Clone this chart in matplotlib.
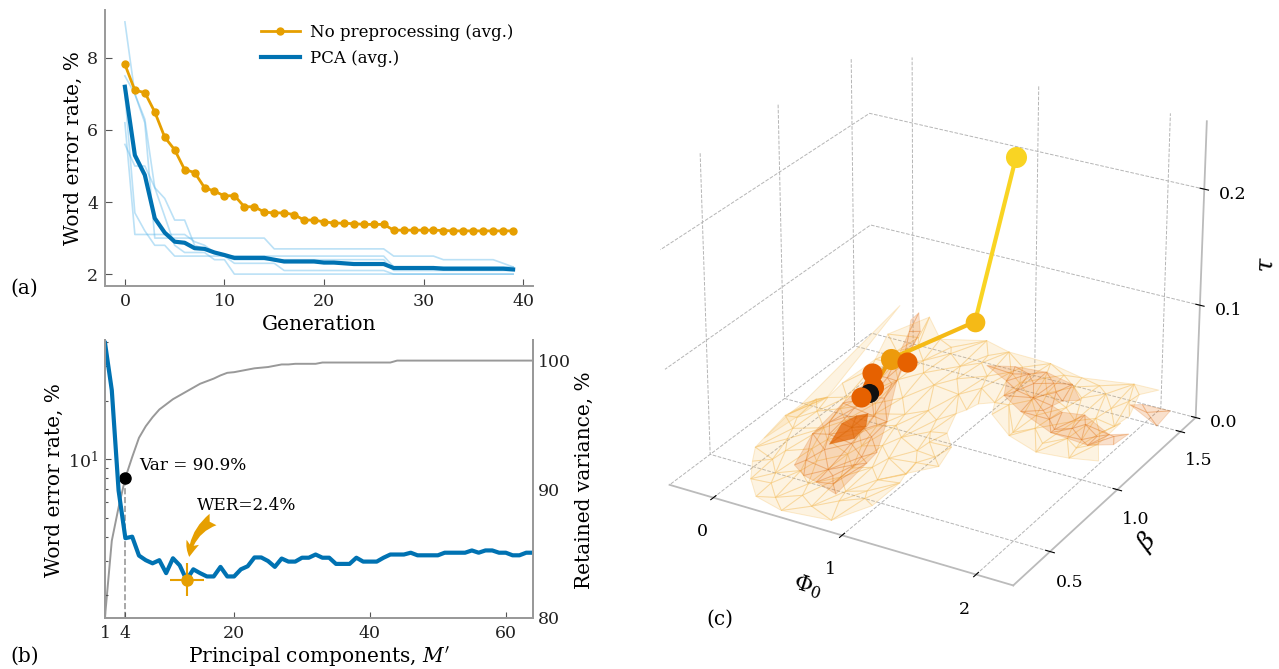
import numpy as np
import matplotlib
matplotlib.use('Agg')
import matplotlib.pyplot as plt
import matplotlib.tri as mtri
from matplotlib.path import Path

plt.rcParams['font.family'] = ['DejaVu Serif']
plt.rcParams['mathtext.fontset'] = 'dejavuserif'

ORANGE = '#E69F00'
BLUE = '#0072B2'
LIGHT = '#56B4E9'
GRAY = '#999999'
AXC = '#BBBBBB'

# panel a
gen = list(range(40))
wer_raw = [7.82, 7.1, 7.04, 6.5, 5.8, 5.45, 4.9, 4.82, 4.4, 4.3, 4.17, 4.18, 3.87, 3.87, 3.72, 3.7, 3.7,
           3.65, 3.5, 3.5, 3.45, 3.42, 3.41, 3.4, 3.38, 3.38, 3.38, 3.22, 3.22, 3.22, 3.22, 3.22, 3.21,
           3.2, 3.2, 3.2, 3.2, 3.2, 3.2, 3.2]
wer_pca = [7.2, 5.3, 4.75, 3.55, 3.15, 2.9, 2.87, 2.72, 2.7, 2.6, 2.53, 2.45, 2.45, 2.45, 2.45, 2.4, 2.35,
           2.35, 2.35, 2.35, 2.32, 2.32, 2.3, 2.28, 2.28, 2.28, 2.28, 2.17, 2.17, 2.17, 2.17, 2.17, 2.15,
           2.15, 2.15, 2.15, 2.15, 2.15, 2.15, 2.13]
run1 = [9.0, 7.0, 6.2, 3.0, 3.0, 3.0, 3.0, 3.0, 3.0, 3.0, 3.0, 3.0, 3.0, 3.0, 3.0, 2.7, 2.7, 2.7, 2.7, 2.7,
        2.7, 2.7, 2.7, 2.7, 2.7, 2.7, 2.7, 2.5, 2.5, 2.5, 2.5, 2.5, 2.4, 2.4, 2.4, 2.4, 2.4, 2.4, 2.3, 2.2]
run2 = [7.5, 7.0, 6.3, 4.4, 4.1, 3.5, 3.5, 2.8, 2.7, 2.6, 2.5, 2.4, 2.4, 2.4, 2.4, 2.4, 2.4, 2.4, 2.4, 2.4,
        2.4, 2.4, 2.4, 2.4, 2.4, 2.4, 2.4, 2.1, 2.1, 2.1, 2.1, 2.1, 2.1, 2.1, 2.1, 2.1, 2.1, 2.1, 2.1, 2.1]
run3 = [5.6, 5.0, 5.0, 4.4, 3.6, 2.8, 2.6, 2.6, 2.6, 2.4, 2.4, 2.0, 2.0, 2.0, 2.0, 2.0, 2.0, 2.0, 2.0, 2.0,
        2.0, 2.0, 2.0, 2.0, 2.0, 2.0, 2.0, 2.0, 2.0, 2.0, 2.0, 2.0, 2.0, 2.0, 2.0, 2.0, 2.0, 2.0, 2.0, 2.0]
run4 = [7.0, 3.7, 3.2, 2.8, 2.8, 2.5, 2.5, 2.5, 2.5, 2.5, 2.5, 2.5, 2.5, 2.5, 2.5, 2.5, 2.5, 2.5, 2.5, 2.5,
        2.5, 2.5, 2.5, 2.5, 2.5, 2.5, 2.5, 2.2, 2.2, 2.2, 2.2, 2.2, 2.2, 2.2, 2.2, 2.2, 2.2, 2.2, 2.2, 2.2]
run5 = [6.2, 3.1, 3.1, 3.1, 3.1, 3.1, 3.1, 2.9, 2.8, 2.6, 2.5, 2.3, 2.3, 2.3, 2.3, 2.3, 2.1, 2.1, 2.1, 2.1,
        2.1, 2.1, 2.1, 2.1, 2.1, 2.1, 2.1, 2.0, 2.0, 2.0, 2.0, 2.0, 2.0, 2.0, 2.0, 2.0, 2.0, 2.0, 2.0, 2.0]

# panel b
comps = list(range(1, 65))
wer_comps = [39.5, 22.6, 6.9, 3.93, 4.0, 3.2, 3.03, 2.92, 3.03, 2.6, 3.1, 2.85, 2.4, 2.72, 2.6, 2.5, 2.5, 2.8,
             2.5, 2.5, 2.72, 2.82, 3.13, 3.13, 3.0, 2.8, 3.09, 2.98, 2.98, 3.12, 3.12, 3.24, 3.12, 3.12, 2.9,
             2.9, 2.9, 3.12, 2.98, 2.98, 2.98, 3.12, 3.24, 3.24, 3.24, 3.31, 3.21, 3.21, 3.21, 3.21, 3.31,
             3.31, 3.31, 3.31, 3.4, 3.31, 3.4, 3.4, 3.31, 3.31, 3.21, 3.21, 3.31, 3.31]
variance = [80.1, 86, 88.6, 90.9, 92.5, 94, 94.9, 95.6, 96.2, 96.6, 97, 97.3, 97.6, 97.9, 98.2, 98.4, 98.6,
            98.85, 99.05, 99.1, 99.2, 99.3, 99.4, 99.45, 99.5, 99.6, 99.7, 99.7, 99.75, 99.75, 99.75, 99.75,
            99.85, 99.85, 99.85, 99.85, 99.85, 99.85, 99.85, 99.85, 99.85, 99.85, 99.85, 100, 100, 100, 100,
            100, 100, 100, 100, 100, 100, 100, 100, 100, 100, 100, 100, 100, 100, 100, 100, 100]
best_m = 13
best_wer = 2.4

# panel c, outer surface: outline first, then the inner vertices
outer_phi = [-.014, -.104, -.184, -.079, .003, .001, .164, .244, .611, .835, 1.175, 1.399, 1.805, 1.994, 1.899,
             1.863, 1.999, 1.808, 1.573, 1.301, 1.048, .979, .863, 1.042, 1.104, .968, .992, .869, .517, .27, .109]
outer_beta = [.505, .598, .866, 1.071, 1.343, 1.438, 1.601, 1.61, 1.624, 1.583, 1.577, 1.604, 1.607, 1.61, 1.476,
              1.393, 1.131, 1.097, 1.078, 1.139, 1.252, 1.338, 1.236, .958, .81, .703, .449, .283, .255, .295, .393]
outer_tau = [.004, .004, .003, .002, .013, .027, .032, .013, .021, .021, .021, .012, .018, .018, .005,
             .003, .003, .003, .003, .003, .003, .003, .003, .003, .003, .003, .003, .004, .004, .004, .004]
inner_phi = [.25, .52, .77, .08, .33, .61, .86, .02, .24, .49, .73, .97, -.08, .16, .41, .64, .88, 1.03,
             -.1, .12, .37, .58, .83, .94, -.06, .17, .42, .67, .86, 1.31, 1.56, 1.79, .01, .26, .52, .74, .93,
             1.12, 1.36, 1.63, 1.86, .06, .3, .57, .81, 1.06, 1.3, 1.54, 1.79, 1.94, .13, .41, .7, 1.0, 1.31, 1.6, 1.9,
             .38, .65, .9, .2, .47, .74, .1, .36, .62, .85, 1.0, -.02, .27, .52, .77, .96, 0.0, .24, .47, .7, .9,
             .07, .29, .55, .78, 1.42, 1.68, 1.9, .13, .38, .63, .85, 1.24, 1.5, 1.75, 1.93, .18, .44, .7, .95, 1.2,
             1.44, 1.68, 1.87]
inner_beta = [.41, .39, .42, .56, .54, .57, .53, .71, .69, .72, .68, .7, .86, .84, .87, .83, .86, .85,
              1.01, .99, 1.02, .98, 1.0, 1.02, 1.16, 1.14, 1.17, 1.13, 1.16, 1.16, 1.14, 1.17, 1.3, 1.28, 1.31,
              1.29, 1.26, 1.31, 1.29, 1.32, 1.28, 1.45, 1.43, 1.46, 1.44, 1.45, 1.43, 1.46, 1.44, 1.45, 1.55,
              1.54, 1.55, 1.53, 1.55, 1.54, 1.55,
              .33, .34, .48, .48, .47, .49, .63, .62, .64, .61, .63, .78, .77, .79, .76, .78, .93, .92, .94,
              .91, .93, 1.08, 1.09, 1.07, 1.09, 1.22, 1.21, 1.23, 1.37, 1.36, 1.38,
              1.36, 1.37, 1.38, 1.36, 1.37, 1.5, 1.51, 1.5, 1.49, 1.51, 1.5, 1.51, 1.5]
inner_tau = [.003, .003, .003, .003, .003, .003, .003, .004, .004, .004, .004, .004, .005, .005, .005, .005, .005,
             .005, .006, .006, .006, .006, .006, .006, .007, .007, .007, .007, .007, .004, .004, .004, .008, .008,
             .008, .008, .008, .008, .008, .008, .008, .012, .012, .012, .012, .012, .012, .012, .012, .012, .017,
             .017, .017, .017, .017, .017, .017,
             .003, .003, .003, .003, .003, .003, .004, .004, .004, .004, .004, .005, .005, .005, .005, .005, .006,
             .006, .006, .006, .006, .006, .006, .006, .006, .005, .005, .005, .01, .01, .01, .01,
             .01, .01, .01, .01, .015, .015, .015, .015, .015, .015, .015, .015]

# thin sheet sticking out of the left lobe
spike_phi = [-.122, -.067, -.024, -.166, -.165]
spike_beta = [.672, 1.06, 1.55, .965, .872]
spike_tau = [.004, .004, .042, .004, .004]

# middle surfaces
midl_phi = [.268, .138, .083, .127, .217, .254, .251, .286, .319, .306, .49, .658, .676, .719, .521]
midl_beta = [.549, .782, 1.04, 1.231, 1.312, 1.37, 1.384, 1.411, 1.392, 1.231, .995, .775, .689, .442, .482]
midl_tau = [.005, .005, .005, .013, .023, .043, .052, .057, .043, .013, .005, .005, .005, .005, .005]
midl_in_phi = [.3, .5, .62, .25, .45, .6, .42, .22, .38, .25, .24, .3, .57, .4, .33, .16, .33, .52, .2, .3, .63]
midl_in_beta = [.6, .58, .66, .8, .78, .72, .9, .95, 1.0, 1.1, 1.22, 1.28, .55, .5, .7, .88, 1.12, .86, 1.02, 1.2, .5]
midl_in_tau = [.005, .005, .005, .006, .006, .005, .006, .006, .006, .009, .015, .023, .005, .005, .005, .006, .009,
               .006, .006, .013, .005]

midr_phi = [.68, .86, 1.094, 1.342, 1.503, 1.373, 1.477, 1.632, 1.91, 2.021, 2.002, 1.854, 1.551, 1.225, 1.008, .915]
midr_beta = [1.562, 1.607, 1.626, 1.587, 1.489, 1.398, 1.372, 1.394, 1.304, 1.342, 1.244, 1.193, 1.212, 1.301, 1.381, 1.488]
midr_tau = [.006, .006, .006, .006, .006, .006, .006, .006, .006, .006, .006, .006, .006, .006, .006, .006]
midr_in_phi = [.9, 1.1, 1.3, 1.05, 1.2, 1.4, 1.45, 1.65, 1.85, 1.7, 1.35, 1.0, 1.22, 1.55, 1.78, 1.95]
midr_in_beta = [1.55, 1.52, 1.5, 1.44, 1.42, 1.45, 1.3, 1.28, 1.27, 1.33, 1.35, 1.58, 1.56, 1.24, 1.22, 1.3]
midr_in_tau = [.006, .006, .006, .006, .006, .006, .006, .006, .006, .006, .006, .006, .006, .006, .006, .006]

far_phi = [1.85, 1.92, 2.13, 2.15, 2.0]
far_beta = [1.532, 1.557, 1.563, 1.434, 1.51]
far_tau = [.008, .008, .008, .008, .008]

dark_phi = [.344, .261, .289, .342, .425, .446, .35]
dark_beta = [.723, .879, .957, .991, .904, .804, .87]
dark_tau = [.008, .008, .008, .008, .008, .008, .008]

# optimiser track
track_phi = [.954, .809, .19, .249, .216]
track_beta = [1.506, 1.346, 1.29, 1.113, 1.052]
track_tau = [.204, .07, .024, .017, .013]
track_col = ['#F9D423', '#F5BA16', '#ED9A0C', '#E66100', '#E66100']
extra_phi = [.307, .181]
extra_beta = [1.301, 1.166]
extra_tau = [.023, .023]
best_phi, best_beta, best_tau = .246, 1.087, .014

fig = plt.figure(figsize=(12.79, 6.69), dpi=100)
W, H = 1279., 669.


def style2d(ax):
    for s in ['left', 'right', 'bottom', 'top']:
        ax.spines[s].set_color(GRAY)
        ax.spines[s].set_linewidth(1.4)
    ax.tick_params(which='both', direction='in', color='#555555', labelsize=12.5, width=0.8, labelcolor='#222222')


# (a)
ax_a = fig.add_axes([105 / W, 1 - 286 / H, 428 / W, 276 / H])
for r in [run1, run2, run3, run4, run5]:
    ax_a.plot(gen, r, color=LIGHT, alpha=0.4, lw=1.2)
ax_a.plot(gen, wer_raw, color=ORANGE, lw=2, marker='o', ms=5, label='No preprocessing (avg.)')
ax_a.plot(gen, wer_pca, color=BLUE, lw=3, label='PCA (avg.)')
ax_a.set_xlim(-2, 41)
ax_a.set_ylim(1.67, 9.33)
ax_a.set_xticks([0, 10, 20, 30, 40])
ax_a.set_yticks([2, 4, 6, 8])
ax_a.spines['top'].set_visible(False)
ax_a.spines['right'].set_visible(False)
style2d(ax_a)
ax_a.tick_params(length=5, pad=5)
ax_a.set_xlabel('Generation', fontsize=14.5, labelpad=4)
ax_a.set_ylabel('Word error rate, %', fontsize=14.5, labelpad=3)
ax_a.legend(loc='upper left', bbox_to_anchor=(0.33, 1.003), frameon=False, fontsize=12, handlelength=2.3,
            handletextpad=0.6, labelspacing=0.5)

# (b)
ax_b = fig.add_axes([105 / W, 1 - 618 / H, 428 / W, 278 / H])
ax_v = ax_b.twinx()
ax_b.set_zorder(ax_v.get_zorder() + 1)
ax_b.patch.set_visible(False)
ax_v.plot(comps, variance, color=GRAY, lw=1.4)
ax_v.plot([comps[3], comps[3]], [80, variance[3]], color=GRAY, lw=1.2, ls='--')
ax_v.plot(comps[3], variance[3], 'o', color='k', ms=8)
ax_v.set_ylim(80, 101.6)
ax_v.set_yticks([80, 90, 100])
ax_v.set_ylabel('Retained variance, %', fontsize=14.5, labelpad=3, y=0.495)
ax_b.plot(comps, wer_comps, color=BLUE, lw=3)
ax_b.errorbar([best_m], [best_wer], xerr=[[2.5], [2.5]], yerr=[[.42], [.52]], color=ORANGE, marker='o', ms=8,
              lw=1.5)
ax_b.set_yscale('log')
ax_b.set_xlim(1, 64)
ax_b.set_ylim(1.53, 40.9)
ax_b.set_xticks([1, 4, 20, 40, 60])
ax_b.set_xlabel("Principal components, $M'$", fontsize=14.5, labelpad=2)
ax_b.set_ylabel('Word error rate, %', fontsize=14.5, labelpad=3, y=0.495)
ax_b.yaxis.set_minor_formatter(matplotlib.ticker.NullFormatter())
ax_b.spines['top'].set_visible(False)
ax_v.spines['top'].set_visible(False)
style2d(ax_b)
style2d(ax_v)
ax_b.tick_params(length=4, pad=5)
ax_v.tick_params(length=0)
ax_b.text(6, 9.3, 'Var = 90.9%', fontsize=12.2, va='center')
ax_b.text(21.9, 5.8, 'WER=2.4%', fontsize=12.2, va='center', ha='center')
ax_b.annotate('', xy=(13.4, 3.15), xytext=(16.9, 4.9),
              arrowprops=dict(arrowstyle='fancy,head_length=0.45,head_width=0.4,tail_width=0.4', color=ORANGE,
                              connectionstyle='arc3,rad=0.25', lw=0, mutation_scale=24, shrinkA=0, shrinkB=0))

fig.text(10 / W, 1 - 288 / H, '(a)', fontsize=14.5, va='center')
fig.text(10 / W, 1 - 656 / H, '(b)', fontsize=14.5, va='center')
fig.text(706 / W, 1 - 619 / H, '(c)', fontsize=14.5, va='center')

# (c)
size = 630
ax3 = fig.add_axes([(929 - size / 2) / W, 1 - (312 + size / 2) / H, size / W, size / H], projection='3d',
                   computed_zorder=False)
ax3.set_box_aspect((4, 4, 3.4))
ax3.view_init(elev=26, azim=-60)
ax3.patch.set_alpha(0)
for a in [ax3.xaxis, ax3.yaxis, ax3.zaxis]:
    a.set_pane_color((1, 1, 1, 0))
    a.line.set_color(AXC)
    a.line.set_linewidth(1.3)
    a._axinfo['grid'].update(color='#B5B5B5', linestyle='--', linewidth=0.7)
    a._axinfo['tick']['inward_factor'] = 0.15
    a._axinfo['tick']['outward_factor'] = 0.15
ax3.set_xlim(-.35, 2.27)
ax3.set_ylim(.24, 1.626)
ax3.set_zlim(0, .257)
ax3.set_xticks([0, 1, 2])
ax3.set_yticks([.5, 1, 1.5])
ax3.set_zticks([0, .1, .2])
ax3.set_zticklabels(['0.0', '0.1', '0.2'])
ax3.tick_params(labelsize=12.5, pad=5)


def surface(phi, beta, tau, n_outline, face, edge, zo, lw=0.7):
    phi = np.array(phi)
    beta = np.array(beta)
    tri = mtri.Triangulation(phi, beta)
    outline = Path(np.column_stack([phi[:n_outline], beta[:n_outline]]))
    cent = np.column_stack([phi[tri.triangles].mean(axis=1), beta[tri.triangles].mean(axis=1)])
    tri.set_mask(~outline.contains_points(cent))
    ax3.plot_trisurf(tri, np.array(tau), color=face, edgecolors=edge, linewidth=lw, shade=False, zorder=zo)


pale_f = (0.976, 0.77, 0.42, 0.2)
pale_e = (0.96, 0.72, 0.3, 0.27)
mid_f = (0.9, 0.45, 0.1, 0.22)
mid_e = (0.88, 0.42, 0.05, 0.22)

surface(outer_phi + inner_phi, outer_beta + inner_beta, outer_tau + inner_tau, len(outer_phi), pale_f, pale_e, 1)
surface(spike_phi, spike_beta, spike_tau, len(spike_phi), pale_f, pale_e, 1)
surface(midl_phi + midl_in_phi, midl_beta + midl_in_beta, midl_tau + midl_in_tau, len(midl_phi), mid_f, mid_e, 2)
surface(midr_phi + midr_in_phi, midr_beta + midr_in_beta, midr_tau + midr_in_tau, len(midr_phi), mid_f, mid_e, 2)
surface(far_phi, far_beta, far_tau, 4, mid_f, mid_e, 2)
surface(dark_phi, dark_beta, dark_tau, 6, (0.9, 0.42, 0.05, 0.8), (0.85, 0.38, 0.0, 0.4), 3)

for i in range(len(track_phi) - 1):
    ax3.plot(track_phi[i:i + 2], track_beta[i:i + 2], track_tau[i:i + 2], color=track_col[i], lw=3, zorder=4)
ax3.scatter(track_phi[0], track_beta[0], track_tau[0], s=230, color=track_col[0], depthshade=False, zorder=5, lw=0)
ax3.scatter(track_phi[1], track_beta[1], track_tau[1], s=200, color=track_col[1], depthshade=False, zorder=5, lw=0)
ax3.scatter(track_phi[2], track_beta[2], track_tau[2], s=230, color=track_col[2], depthshade=False, zorder=5, lw=0)
ax3.scatter(extra_phi[0], extra_beta[0], extra_tau[0], s=210, color='#E66100', depthshade=False, zorder=6, lw=0)
ax3.scatter(extra_phi[1], extra_beta[1], extra_tau[1], s=210, color='#E66100', depthshade=False, zorder=5, lw=0)
ax3.scatter(track_phi[3], track_beta[3], track_tau[3], s=230, color='#E66100', depthshade=False, zorder=5, lw=0)
ax3.scatter(best_phi, best_beta, best_tau, s=190, color='#111111', depthshade=False, zorder=6, lw=0)
ax3.scatter(track_phi[4], track_beta[4], track_tau[4], s=210, color='#E66100', depthshade=False, zorder=7, lw=0)

fig.text(808 / W, 1 - 586 / H, r'$\Phi_0$', fontsize=16, rotation=-18, ha='center', va='center', style='italic')
fig.text(1147 / W, 1 - 542 / H, r'$\beta$', fontsize=18, rotation=48, ha='center', va='center')
fig.text(1267 / W, 1 - 265 / H, r'$\tau$', fontsize=18, rotation=88, ha='center', va='center')

fig.savefig('out.png', dpi=100)
